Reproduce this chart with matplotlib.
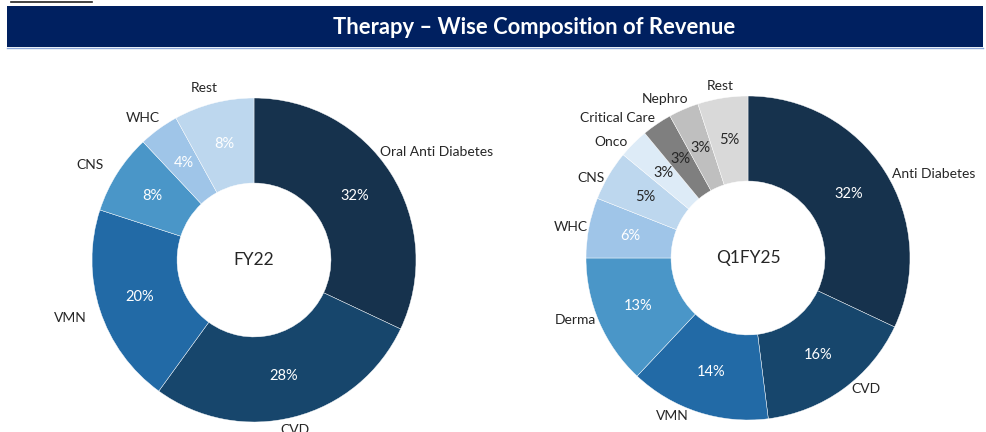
import numpy as np
import matplotlib
matplotlib.use('Agg')
import matplotlib.pyplot as plt
from matplotlib.patches import Rectangle
from matplotlib.lines import Line2D

plt.rcParams['font.family'] = ['Lato', 'DejaVu Sans']

# Data
fy22_labels = ['Oral Anti Diabetes', 'CVD', 'VMN', 'CNS', 'WHC', 'Rest']
fy22_values = [32, 28, 20, 8, 4, 8]
q1fy25_labels = ['Anti Diabetes', 'CVD', 'VMN', 'Derma', 'WHC', 'CNS', 'Onco',
                 'Critical Care', 'Nephro', 'Rest']
q1fy25_values = [32, 16, 14, 13, 6, 5, 3, 3, 3, 5]

# Styles
fy22_colors = ['#16324D', '#17466C', '#226AA6', '#4A96C8', '#9FC5E8', '#BDD7EE']
fy22_pct_colors = ['white'] * 6
fy22_lab_r = [1.31, 1.08, 1.19, 1.17, 1.11, 1.105]
fy22_lab_da = [1.9, 1.0, 0.5, -2.4, -2.0, -1.6]

q1_colors = ['#16324D', '#17466C', '#226AA6', '#4A96C8', '#9FC5E8', '#BDD7EE',
             '#DDEBF7', '#7F7F7F', '#BFBFBF', '#D9D9D9']
q1_pct_colors = ['white'] * 5 + ['#262626'] * 5
q1_lab_r = [1.26, 1.09, 1.08, 1.13, 1.11, 1.09, 1.11, 1.18, 1.11, 1.075]
q1_lab_da = [8.1, -6.0, 7.8, 3.7, -0.8, -3.7, -4.7, -8.7, -4.2, -0.2]

W, H = 986, 432
R_PX = 162
fig = plt.figure(figsize=(W / 100, H / 100), dpi=100)

# title bar
fig.patches.append(Rectangle((7 / W, 1 - 47 / H), 976 / W, 41 / H, transform=fig.transFigure,
                             facecolor='#002060', edgecolor='none'))
fig.lines.append(Line2D([7 / W, 983 / W], [1 - 47.5 / H, 1 - 47.5 / H], transform=fig.transFigure,
                        color='#8EA9DB', lw=1))
fig.lines.append(Line2D([11 / W, 92 / W], [1 - 1.5 / H, 1 - 1.5 / H], transform=fig.transFigure,
                        color='#222222', lw=1.2))
fig.text(534 / W, 1 - 27 / H, 'Therapy \u2013 Wise Composition of Revenue', color='white',
         fontsize=15.8, fontweight='bold', ha='center', va='center')


def donut(cx, cy, labels, values, colors, pct_colors, lab_r, lab_da, center_text):
    half = 220
    ax = fig.add_axes([(cx - half) / W, 1 - (cy + half) / H, 2 * half / W, 2 * half / H])
    wedges, _, pcts = ax.pie(values, colors=colors, startangle=90, counterclock=False,
                             radius=1, autopct=lambda p: f'{p:.0f}%', pctdistance=0.74,
                             wedgeprops=dict(width=0.525, edgecolor='white', linewidth=0.3),
                             textprops=dict(fontsize=10.5))
    for t, c in zip(pcts, pct_colors):
        t.set_color(c)
    for w, lab, r, da in zip(wedges, labels, lab_r, lab_da):
        ang = np.deg2rad((w.theta1 + w.theta2) / 2 - da)
        ax.text(r * np.cos(ang), r * np.sin(ang), lab, ha='center', va='center',
                fontsize=10, color='#262626', clip_on=False)
    ax.text(0, 0, center_text, ha='center', va='center', fontsize=12.5, color='#262626')
    lim = half / R_PX
    ax.set_xlim(-lim, lim)
    ax.set_ylim(-lim, lim)
    ax.axis('off')


donut(254, 260, fy22_labels, fy22_values, fy22_colors, fy22_pct_colors,
      fy22_lab_r, fy22_lab_da, 'FY22')
donut(748, 258, q1fy25_labels, q1fy25_values, q1_colors, q1_pct_colors,
      q1_lab_r, q1_lab_da, 'Q1FY25')

fig.savefig('out.png', dpi=100)
